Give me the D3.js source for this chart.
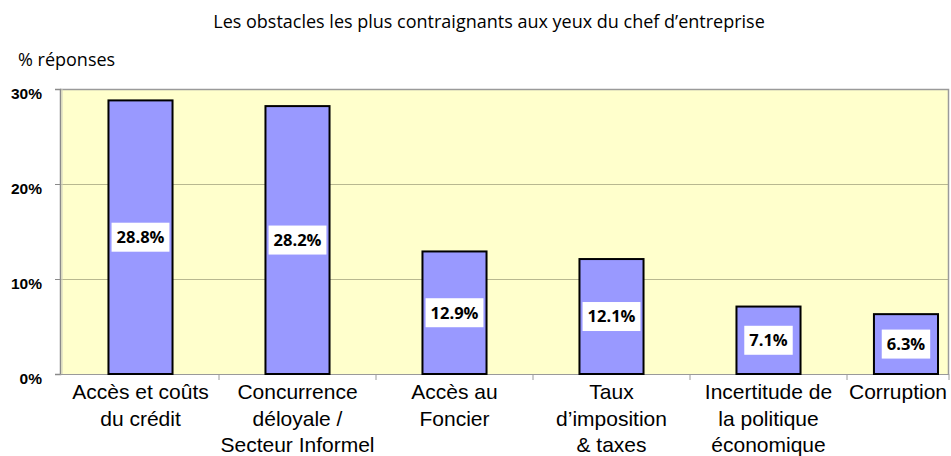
<!DOCTYPE html>
<html>
<head>
<meta charset="utf-8">
<script src="https://cdn.jsdelivr.net/npm/d3@7"></script>
<style>
  html, body { margin: 0; padding: 0; background: #fff; }
  svg { display: block; }
</style>
</head>
<body>
<svg id="chart" width="951" height="456"></svg>
<script>
// Obstacles cited by business owners (% of responses)
const categories = [
  "Accès et coûts du crédit",
  "Concurrence déloyale / Secteur Informel",
  "Accès au Foncier",
  "Taux d’imposition & taxes",
  "Incertitude de la politique économique",
  "Corruption"
];
const categoryLines = [
  ["Accès et coûts", "du crédit"],
  ["Concurrence", "déloyale /", "Secteur Informel"],
  ["Accès au", "Foncier"],
  ["Taux", "d’imposition", "& taxes"],
  ["Incertitude de", "la politique", "économique"],
  ["Corruption"]
];
const values = [28.8, 28.2, 12.9, 12.1, 7.1, 6.3];
const yTicks = [0, 10, 20, 30];
const yTickLabels = ["0%", "10%", "20%", "30%"];
const title = "Les obstacles les plus contraignants aux yeux du chef d’entreprise";
const yAxisTitle = "% réponses";

const svg = d3.select("#chart");

// Plot frame; the category axis runs past the visible right edge
const plot = { left: 60, top: 89, right: 949, bottom: 374 };
const bandStart = 62, bandEnd = 1004;

const y = d3.scaleLinear().domain([0, 30]).range([plot.bottom, plot.top]);
const x = d3.scaleBand()
  .domain(categories)
  .range([bandStart, bandEnd])
  .paddingInner(0.592)
  .paddingOuter(0.296);
const step = x.step();
const bw = x.bandwidth();

// bar left edge, kept inside the visible plot area
const barX = c => Math.min(x(c), plot.right - 11 - bw);
// category centre, using the visible part of each band
function catCenter(c, i) {
  const l = bandStart + i * step;
  const r = Math.min(l + step, plot.right);
  return (l + r) / 2;
}

// Title
svg.append("text")
  .attr("x", 489).attr("y", 28)
  .attr("text-anchor", "middle")
  .attr("font-family", "'Open Sans', sans-serif")
  .attr("font-size", 18)
  .attr("fill", "#000")
  .text(title);

// Y axis title
svg.append("text")
  .attr("x", 18).attr("y", 66)
  .attr("font-family", "'Open Sans', sans-serif")
  .attr("font-size", 18)
  .attr("fill", "#000")
  .text(yAxisTitle);

// Plot background
svg.append("rect")
  .attr("x", plot.left).attr("y", plot.top)
  .attr("width", plot.right - plot.left).attr("height", plot.bottom - plot.top)
  .attr("fill", "#FFFFCC");

// Gridlines
svg.append("g")
  .selectAll("line")
  .data(yTicks.filter(t => t > 0 && t < 30))
  .join("line")
  .attr("x1", plot.left).attr("x2", plot.right)
  .attr("y1", d => y(d) + 0.5).attr("y2", d => y(d) + 0.5)
  .attr("stroke", "#B8B890").attr("stroke-width", 1.2);

// Frame: top and right
svg.append("path")
  .attr("d", `M${plot.left},${plot.top + 0.5}H${plot.right - 0.5}V${plot.bottom}`)
  .attr("fill", "none").attr("stroke", "#9a9a9a").attr("stroke-width", 1.5);

// Y axis
const yAxis = d3.axisLeft(y)
  .tickValues(yTicks)
  .tickFormat((d, i) => yTickLabels[i])
  .tickSize(5)
  .tickPadding(13);
const gy = svg.append("g")
  .attr("transform", `translate(${plot.left},0)`)
  .call(yAxis);
gy.select(".domain").attr("stroke", "#8a8a8a").attr("stroke-width", 1.5);
gy.selectAll(".tick line").attr("stroke", "#8a8a8a");
gy.selectAll(".tick text")
  .attr("font-family", "'Liberation Sans', Arial, sans-serif")
  .attr("font-weight", "bold")
  .attr("font-size", 15.5)
  .attr("dy", "0.6em")
  .attr("fill", "#000");
svg.append("line")
  .attr("x1", plot.left + 2).attr("x2", plot.left + 2)
  .attr("y1", plot.top).attr("y2", plot.bottom)
  .attr("stroke", "#d0d0c0").attr("stroke-width", 1);

// X axis baseline and category separators
svg.append("line")
  .attr("x1", plot.left).attr("x2", plot.right)
  .attr("y1", plot.bottom + 0.5).attr("y2", plot.bottom + 0.5)
  .attr("stroke", "#9a9a9a").attr("stroke-width", 1.2);
const sepX = d3.range(1, categories.length + 1)
  .map(i => Math.min(bandStart + i * step, plot.right));
svg.append("g")
  .selectAll("line")
  .data(sepX)
  .join("line")
  .attr("x1", d => d).attr("x2", d => d)
  .attr("y1", plot.bottom).attr("y2", plot.bottom + 6)
  .attr("stroke", "#9a9a9a").attr("stroke-width", 1);

// Bars
svg.append("g")
  .selectAll("rect")
  .data(values)
  .join("rect")
  .attr("x", (d, i) => barX(categories[i]))
  .attr("y", d => y(d))
  .attr("width", bw)
  .attr("height", d => y(0) - y(d))
  .attr("fill", "#9999FF")
  .attr("stroke", "#000")
  .attr("stroke-width", 2);

// Value labels in white boxes, centred in each bar
const lab = svg.append("g")
  .selectAll("g")
  .data(values)
  .join("g")
  .attr("transform", (d, i) => `translate(${barX(categories[i]) + bw / 2},${(y(d) + y(0)) / 2})`);
lab.append("rect").attr("fill", "#fff");
lab.append("text")
  .attr("text-anchor", "middle")
  .attr("dy", "0.36em")
  .attr("font-family", "'Open Sans', sans-serif")
  .attr("font-weight", "bold")
  .attr("font-size", 16.5)
  .attr("fill", "#000")
  .text(d => d.toFixed(1) + "%");
lab.each(function () {
  const g = d3.select(this);
  const w = g.select("text").node().getComputedTextLength();
  g.select("rect")
    .attr("x", -w / 2 - 5).attr("y", -14.5)
    .attr("width", w + 10).attr("height", 29);
});

// Category labels
svg.append("g")
  .selectAll("text")
  .data(categories)
  .join("text")
  .attr("x", (c, i) => catCenter(c, i))
  .attr("y", 399)
  .attr("text-anchor", "middle")
  .attr("font-family", "'Liberation Sans', Arial, sans-serif")
  .attr("font-size", 21)
  .attr("fill", "#000")
  .each(function (c, i) {
    const t = d3.select(this);
    categoryLines[i].forEach((ln, k) => {
      t.append("tspan")
        .attr("x", catCenter(c, i))
        .attr("dy", k === 0 ? 0 : 26.5)
        .text(ln);
    });
  });
</script>
</body>
</html>
